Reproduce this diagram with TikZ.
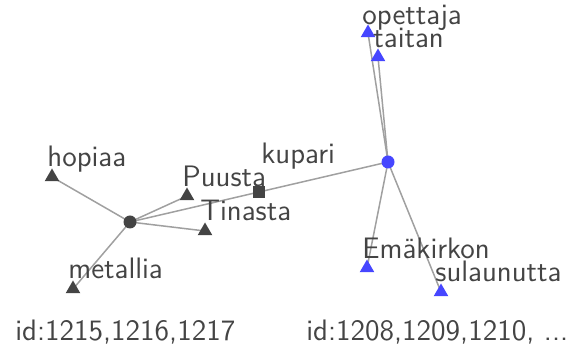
\documentclass[tikz,border=0pt]{standalone}
\usetikzlibrary{shapes.geometric,backgrounds}
\definecolor{ink}{RGB}{68,68,68}
\definecolor{edgegray}{RGB}{160,160,160}
\definecolor{hubblue}{RGB}{70,70,255}
\tikzset{
  leaf/.style={shape=regular polygon, regular polygon sides=3, inner sep=0pt, minimum size=8.5pt, fill=#1},
  hub/.style={shape=circle, inner sep=0pt, minimum size=6.5pt, fill=#1},
  word/.style={anchor=base west, inner sep=0pt, text=ink, font=\sffamily\fontsize{14.8}{17}\selectfont},
  link/.style={draw=edgegray, line width=0.75pt}
}
\begin{document}
\begin{tikzpicture}[x=0.5pt, y=-0.5pt]
\useasboundingbox (0,0) rectangle (578,351);
% dark group
\node [hub=ink] (H1) at (130,222) {};
\node [leaf=ink] (hopiaa) at (52,177) {};
\node [leaf=ink] (puusta) at (187,196) {};
\node [leaf=ink] (tinasta) at (205,231) {};
\node [leaf=ink] (metallia) at (73,289) {};
\node [shape=rectangle, fill=ink, inner sep=0pt, minimum size=6pt] (kupari) at (259,192) {};
% blue group
\node [hub=hubblue] (H2) at (388,162) {};
\node [leaf=hubblue] (opettaja) at (368,33) {};
\node [leaf=hubblue] (taitan) at (378,57) {};
\node [leaf=hubblue] (emakirkon) at (367,268) {};
\node [leaf=hubblue] (sulaunutta) at (441,292) {};

\begin{scope}[on background layer]
\draw[link] (H1.center) -- (hopiaa.center);
\draw[link] (H1.center) -- (puusta.center);
\draw[link] (H1.center) -- (tinasta.center);
\draw[link] (H1.center) -- (metallia.center);
\draw[link] (H1.center) -- (kupari.center);
\draw[link] (kupari.center) -- (H2.center);
\draw[link] (H2.center) -- (opettaja.center);
\draw[link] (H2.center) -- (taitan.center);
\draw[link] (H2.center) -- (emakirkon.center);
\draw[link] (H2.center) -- (sulaunutta.center);
\end{scope}

% labels
\node [word] (Lhopiaa) at (47,167) {hopiaa};
\node [word] (Lpuusta) at (182,187) {Puusta};
\node [word] (Ltinasta) at (200,221) {Tinasta};
\node [word] (Lmetallia) at (68,279) {metallia};
\node [word] (Lkupari) at (261,164) {kupari};
\node [word] (Lopettaja) at (362,25) {opettaja};
\node [word] (Ltaitan) at (373,48) {taitan};
\node [word] (Lemakirkon) at (362,259) {Emäkirkon};
\node [word] (Lsulaunutta) at (435,282) {sulaunutta};
\node [word] (id1) at (15,341) {id:1215,1216,1217};
\node [word] (id2) at (306,341) {id:1208,1209,1210, ...};
\end{tikzpicture}
\end{document}
